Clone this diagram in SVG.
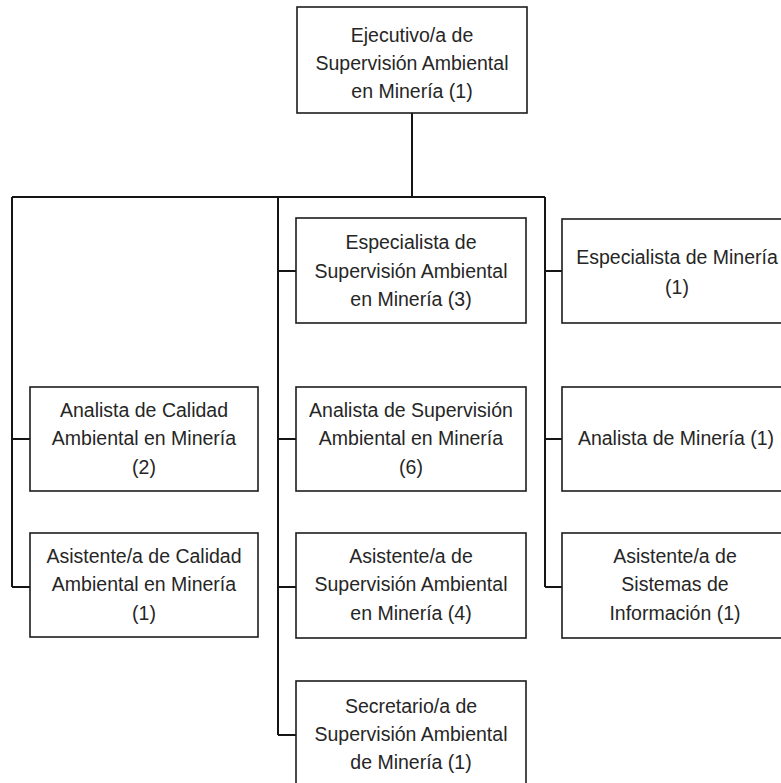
<svg xmlns="http://www.w3.org/2000/svg" width="781" height="783" viewBox="0 0 781 783">
<style>
.box{fill:#fff;stroke:#1c1c1c;stroke-width:1.6}
.con{fill:none;stroke:#151515;stroke-width:2}
text{font-family:"Liberation Sans",Arial,sans-serif;font-size:19.5px;fill:#262626;text-anchor:middle}
</style>
<rect width="781" height="783" fill="#fff"/>
<g id="connectors" class="con">
<path d="M412 113V197M12 197H545"/>
<path d="M12 197V587M12 439H30M12 587H30"/>
<path d="M278 197V735M278 271H296M278 439H296M278 587H296M278 735H296"/>
<path d="M545 197V587M545 271H562M545 439H562M545 587H562"/>
</g>
<g id="ejecutivo">
<rect class="box" x="297" y="7" width="230" height="106"/>
<text x="412" y="42">Ejecutivo/a de</text>
<text x="412" y="70">Supervisión Ambiental</text>
<text x="412" y="98">en Minería (1)</text>
</g>
<g id="analista-calidad">
<rect class="box" x="30" y="387" width="228" height="104"/>
<text x="144" y="417">Analista de Calidad</text>
<text x="144" y="445">Ambiental en Minería</text>
<text x="144" y="474">(2)</text>
</g>
<g id="asistente-calidad">
<rect class="box" x="30" y="533" width="228" height="104"/>
<text x="144" y="563">Asistente/a de Calidad</text>
<text x="144" y="591">Ambiental en Minería</text>
<text x="144" y="620">(1)</text>
</g>
<g id="especialista-sa">
<rect class="box" x="296" y="218" width="230" height="105"/>
<text x="411" y="249">Especialista de</text>
<text x="411" y="278">Supervisión Ambiental</text>
<text x="411" y="306">en Minería (3)</text>
</g>
<g id="analista-sa">
<rect class="box" x="296" y="387" width="230" height="104"/>
<text x="411" y="417">Analista de Supervisión</text>
<text x="411" y="445">Ambiental en Minería</text>
<text x="411" y="474">(6)</text>
</g>
<g id="asistente-sa">
<rect class="box" x="296" y="533" width="230" height="105"/>
<text x="411" y="563">Asistente/a de</text>
<text x="411" y="591">Supervisión Ambiental</text>
<text x="411" y="620">en Minería (4)</text>
</g>
<g id="secretario">
<rect class="box" x="296" y="681" width="230" height="115"/>
<text x="411" y="713">Secretario/a de</text>
<text x="411" y="741">Supervisión Ambiental</text>
<text x="411" y="769">de Minería (1)</text>
</g>
<g id="especialista-mineria">
<rect class="box" x="562" y="219" width="235" height="104"/>
<text x="677" y="264">Especialista de Minería</text>
<text x="677" y="294">(1)</text>
</g>
<g id="analista-mineria">
<rect class="box" x="562" y="387" width="235" height="104"/>
<text x="676" y="445">Analista de Minería (1)</text>
</g>
<g id="asistente-si">
<rect class="box" x="562" y="533" width="235" height="105"/>
<text x="675" y="563">Asistente/a de</text>
<text x="675" y="591">Sistemas de</text>
<text x="675" y="620">Información (1)</text>
</g>
</svg>
